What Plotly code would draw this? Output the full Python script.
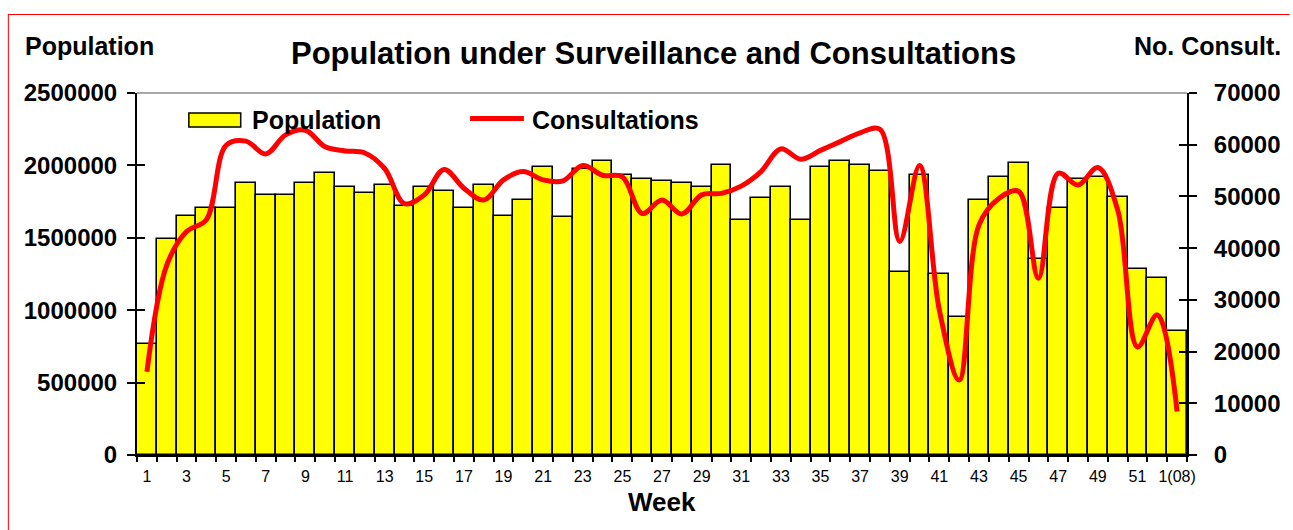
import plotly.graph_objects as go

# ---------------- data ----------------
weeks = [str(i) for i in range(1, 53)] + ["1(08)"]

population = [
    764000, 1490000, 1650000, 1708000, 1708000, 1880000, 1798000, 1798000, 1880000, 1948000,
    1853000, 1811000, 1867000, 1722000, 1853000, 1825000, 1708000, 1867000, 1650000, 1759000,
    1987000, 1641000, 1973000, 2030000, 1934000, 1906000, 1892000, 1876000, 1851000, 2000000,
    1623000, 1773000, 1853000, 1623000, 1987000, 2030000, 2000000, 1963000, 1262000, 1934000,
    1250000, 953000, 1759000, 1920000, 2014000, 1354000, 1706000, 1906000, 1920000, 1784000,
    1287000, 1220000, 858000,
]

consultations = [
    16100, 36700, 43200, 45500, 59900, 60700, 58200, 61900, 62800, 59600,
    58800, 58400, 55400, 48600, 50300, 55200, 51600, 49300, 53200, 54800,
    53200, 53000, 56000, 54100, 53800, 46700, 49300, 46600, 50300, 50600,
    52000, 54800, 59200, 57200, 58900, 60600, 62300, 63000, 41300, 56000,
    28000, 14500, 44500, 49600, 51000, 34200, 54500, 52200, 55600, 47400,
    20900, 27100, 8400,
]

tick_text = [w if i % 2 == 0 else "" for i, w in enumerate(weeks)]

pop_ticks = [0, 500000, 1000000, 1500000, 2000000, 2500000]
cons_ticks = [0, 10000, 20000, 30000, 40000, 50000, 60000, 70000]

# ---------------- layout geometry (pixels) ----------------
W, H = 1293, 530
L, R, T, B = 137, 1190, 93, 455  # plot area in pixels


def px(x):
    return (x - L) / (R - L)


def py(y):
    return (B - y) / (B - T)


FONT = "Liberation Sans, Arial, sans-serif"

fig = go.Figure()

fig.add_trace(go.Bar(
    x=weeks, y=population, name="Population",
    marker=dict(color="#FFFF00", line=dict(color="black", width=1.6)),
    showlegend=False,
))

fig.add_trace(go.Scatter(
    x=weeks, y=consultations, name="Consultations", yaxis="y2",
    mode="lines", line=dict(color="#FF0000", width=5, shape="spline", smoothing=1.0),
    showlegend=False,
))

# empty traces so the inside-tick overlay axes are drawn
fig.add_trace(go.Scatter(x=[], y=[], yaxis="y3", showlegend=False, hoverinfo="skip"))
fig.add_trace(go.Scatter(x=[], y=[], yaxis="y4", showlegend=False, hoverinfo="skip"))

fig.update_layout(
    width=W, height=H, autosize=False,
    margin=dict(l=L, r=W - R, t=T, b=H - B, pad=0),
    paper_bgcolor="white", plot_bgcolor="white",
    bargap=0,
    font=dict(family=FONT, color="black"),
    xaxis=dict(
        type="category", categoryorder="array", categoryarray=weeks,
        range=[-0.5, len(weeks) - 0.5],
        tickmode="array", tickvals=weeks, ticktext=tick_text,
        tickson="boundaries", ticks="outside", ticklen=5, tickwidth=1.5, tickcolor="black",
        showline=True, linecolor="black", linewidth=2,
        showgrid=False, zeroline=False,
        tickfont=dict(size=16, family=FONT, color="black"),
        tickangle=0, ticklabelstandoff=6,
    ),
    yaxis=dict(
        range=[0, 2500000], tickmode="array", tickvals=pop_ticks, tickformat="d",
        ticks="outside", ticklen=8, tickwidth=1.5, tickcolor="black",
        showline=True, linecolor="black", linewidth=2,
        showgrid=False, zeroline=False,
        tickfont=dict(size=24, family=FONT, color="black", weight="bold"),
        ticklabelstandoff=5,
    ),
    yaxis2=dict(
        range=[0, 70000], tickmode="array", tickvals=cons_ticks, tickformat="d",
        overlaying="y", side="right", anchor="x",
        ticks="outside", ticklen=8, tickwidth=1.5, tickcolor="black",
        showline=True, linecolor="black", linewidth=2,
        showgrid=False, zeroline=False,
        tickfont=dict(size=24, family=FONT, color="black", weight="bold"),
        ticklabelstandoff=12,
    ),
    yaxis3=dict(
        range=[0, 2500000], tickmode="array", tickvals=pop_ticks,
        overlaying="y", side="left", anchor="x",
        ticks="inside", ticklen=8, tickwidth=1.5, tickcolor="black",
        showticklabels=False, showline=False, showgrid=False, zeroline=False,
    ),
    yaxis4=dict(
        range=[0, 70000], tickmode="array", tickvals=cons_ticks,
        overlaying="y", side="right", anchor="x",
        ticks="inside", ticklen=8, tickwidth=1.5, tickcolor="black",
        showticklabels=False, showline=False, showgrid=False, zeroline=False,
    ),
)

shapes = [
    # red outer frame: only top and left edges are visible in the picture
    dict(type="line", xref="paper", yref="paper",
         x0=px(7.5), x1=px(W), y0=py(14.5), y1=py(14.5),
         line=dict(color="#FF0000", width=1), layer="below"),
    dict(type="line", xref="paper", yref="paper",
         x0=px(8), x1=px(8), y0=py(14.5), y1=py(H),
         line=dict(color="#FF0000", width=1), layer="below"),
    # grey top border of plot area
    dict(type="line", xref="paper", yref="paper", x0=0, x1=1, y0=1, y1=1,
         line=dict(color="#888888", width=1.5)),
    # legend swatches
    dict(type="rect", xref="paper", yref="paper",
         x0=px(189), x1=px(241), y0=py(127), y1=py(113),
         fillcolor="#FFFF00", line=dict(color="black", width=1.5)),
    dict(type="line", xref="paper", yref="paper",
         x0=px(471), x1=px(525), y0=py(118.5), y1=py(118.5),
         line=dict(color="#FF0000", width=5)),
]

annotations = [
    dict(text="<b>Population under Surveillance and Consultations</b>",
         xref="paper", yref="paper", x=px(655), y=py(53),
         xanchor="center", yanchor="middle", showarrow=False,
         font=dict(size=31, family=FONT, color="black")),
    dict(text="<b>Population</b>", xref="paper", yref="paper",
         x=px(23), y=py(46), xanchor="left", yanchor="middle", showarrow=False,
         font=dict(size=25, family=FONT, color="black")),
    dict(text="<b>No. Consult.</b>", xref="paper", yref="paper",
         x=px(1286), y=py(46), xanchor="right", yanchor="middle", showarrow=False,
         font=dict(size=25, family=FONT, color="black")),
    dict(text="<b>Week</b>", xref="paper", yref="paper",
         x=px(663), y=py(502), xanchor="center", yanchor="middle", showarrow=False,
         font=dict(size=26, family=FONT, color="black")),
    dict(text="<b>Population</b>", xref="paper", yref="paper",
         x=px(250), y=py(120), xanchor="left", yanchor="middle", showarrow=False,
         font=dict(size=25, family=FONT, color="black")),
    dict(text="<b>Consultations</b>", xref="paper", yref="paper",
         x=px(531), y=py(120), xanchor="left", yanchor="middle", showarrow=False,
         font=dict(size=25, family=FONT, color="black")),
]

fig.update_layout(shapes=shapes, annotations=annotations)

# remove the default page margin so the 1293x530 figure fills the window exactly
fig.write_html(
    "out.html",
    config={"displayModeBar": False},
    post_script="document.body.style.margin='0';document.body.style.overflow='hidden';",
)
